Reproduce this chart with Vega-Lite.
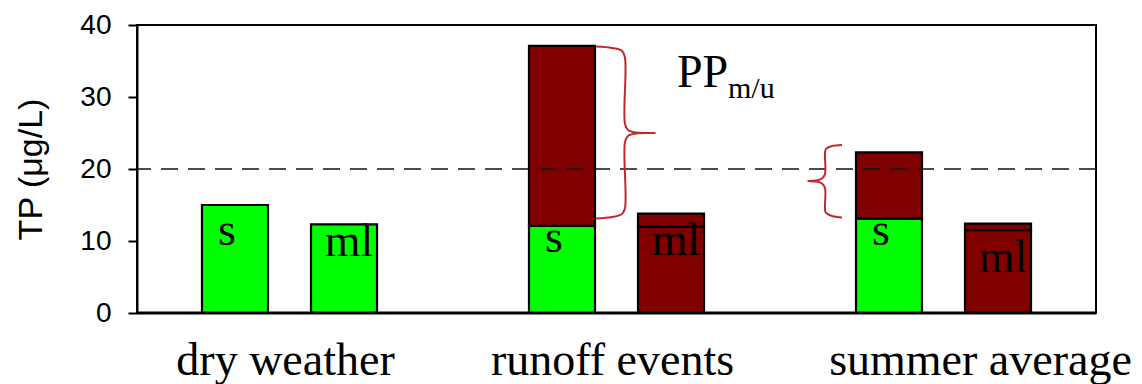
{
  "$schema": "https://vega.github.io/schema/vega-lite/v6.json",
  "width": 959,
  "height": 288,
  "autosize": {"type": "none"},
  "padding": {"left": 137, "top": 25, "right": 46, "bottom": 71},
  "background": "white",
  "config": {
    "view": {"stroke": "black", "strokeWidth": 2},
    "axisY": {
      "grid": false, "domainColor": "black", "domainWidth": 2,
      "tickColor": "black", "tickWidth": 2, "tickSize": 9, "tickCount": 5,
      "labelFont": "Liberation Sans", "labelFontSize": 28, "labelColor": "black", "labelPadding": 17,
      "titleFont": "Liberation Sans", "titleFontSize": 34, "titleFontWeight": "normal", "titleColor": "black",
      "titleX": -106, "titleY": 144, "titleAngle": -90, "titleAlign": "center", "titleBaseline": "middle"
    },
    "axisX": {
      "grid": false, "domain": false, "ticks": false,
      "labelFont": "Liberation Serif", "labelFontSize": 46, "labelColor": "black",
      "labelBaseline": "alphabetic", "labelPadding": 61, "labelAngle": 0, "labelLimit": 0
    }
  },
  "datasets": {
    "bars": [
      {"period": "dry weather", "site": "s", "fraction": "dissolved", "seg": 1, "value": 15.0},
      {"period": "dry weather", "site": "ml", "fraction": "dissolved", "seg": 1, "value": 12.3},
      {"period": "runoff events", "site": "s", "fraction": "dissolved", "seg": 1, "value": 12.1},
      {"period": "runoff events", "site": "s", "fraction": "particulate", "seg": 2, "value": 25.0},
      {"period": "runoff events", "site": "ml", "fraction": "particulate", "seg": 1, "value": 12.0},
      {"period": "runoff events", "site": "ml", "fraction": "particulate", "seg": 2, "value": 1.8},
      {"period": "summer average", "site": "s", "fraction": "dissolved", "seg": 1, "value": 13.1},
      {"period": "summer average", "site": "s", "fraction": "particulate", "seg": 2, "value": 9.2},
      {"period": "summer average", "site": "ml", "fraction": "particulate", "seg": 1, "value": 11.5},
      {"period": "summer average", "site": "ml", "fraction": "particulate", "seg": 2, "value": 0.9}
    ],
    "labels": [
      {"period": "dry weather", "site": "s", "label": "s", "ly": 9.44},
      {"period": "runoff events", "site": "s", "label": "s", "ly": 8.47},
      {"period": "summer average", "site": "s", "label": "s", "ly": 9.44},
      {"period": "dry weather", "site": "ml", "label": "ml", "ly": 7.92},
      {"period": "runoff events", "site": "ml", "label": "ml", "ly": 8.06},
      {"period": "summer average", "site": "ml", "label": "ml", "ly": 5.69}
    ],
    "refs": [
      {"name": "threshold", "ty": 20},
      {"name": "baseline", "ty": 0}
    ],
    "braces": [
      {"brace": "runoff", "i": 1, "u": 1.4373, "v": 37.01},
      {"brace": "runoff", "i": 2, "u": 1.4862, "v": 36.81},
      {"brace": "runoff", "i": 3, "u": 1.5168, "v": 36.39},
      {"brace": "runoff", "i": 4, "u": 1.5260, "v": 35.42},
      {"brace": "runoff", "i": 5, "u": 1.5260, "v": 26.25},
      {"brace": "runoff", "i": 6, "u": 1.5352, "v": 25.42},
      {"brace": "runoff", "i": 7, "u": 1.5596, "v": 25.07},
      {"brace": "runoff", "i": 8, "u": 1.6177, "v": 25.0},
      {"brace": "runoff", "i": 9, "u": 1.5596, "v": 24.93},
      {"brace": "runoff", "i": 10, "u": 1.5352, "v": 24.58},
      {"brace": "runoff", "i": 11, "u": 1.5260, "v": 23.75},
      {"brace": "runoff", "i": 12, "u": 1.5260, "v": 14.58},
      {"brace": "runoff", "i": 13, "u": 1.5168, "v": 13.75},
      {"brace": "runoff", "i": 14, "u": 1.4862, "v": 13.33},
      {"brace": "runoff", "i": 15, "u": 1.4373, "v": 13.13},
      {"brace": "summer", "i": 1, "u": 2.1896, "v": 23.33},
      {"brace": "summer", "i": 2, "u": 2.1590, "v": 23.19},
      {"brace": "summer", "i": 3, "u": 2.1407, "v": 22.78},
      {"brace": "summer", "i": 4, "u": 2.1376, "v": 22.22},
      {"brace": "summer", "i": 5, "u": 2.1376, "v": 19.31},
      {"brace": "summer", "i": 6, "u": 2.1284, "v": 18.68},
      {"brace": "summer", "i": 7, "u": 2.1101, "v": 18.40},
      {"brace": "summer", "i": 8, "u": 2.0856, "v": 18.33},
      {"brace": "summer", "i": 9, "u": 2.1101, "v": 18.26},
      {"brace": "summer", "i": 10, "u": 2.1284, "v": 17.99},
      {"brace": "summer", "i": 11, "u": 2.1376, "v": 17.36},
      {"brace": "summer", "i": 12, "u": 2.1376, "v": 14.44},
      {"brace": "summer", "i": 13, "u": 2.1407, "v": 13.89},
      {"brace": "summer", "i": 14, "u": 2.1590, "v": 13.47},
      {"brace": "summer", "i": 15, "u": 2.1896, "v": 13.26}
    ],
    "pp": [
      {"text": "PP", "u": 1.685, "v": 31.39, "size": "main"},
      {"text": "m/u", "u": 1.841, "v": 29.86, "size": "sub"}
    ]
  },
  "layer": [
    {
      "data": {"name": "bars"},
      "transform": [
        {"stack": "value", "groupby": ["period", "site"], "sort": [{"field": "seg"}], "as": ["lo", "hi"]}
      ],
      "mark": {"type": "bar", "stroke": "black", "strokeWidth": 2.2},
      "encoding": {
        "x": {
          "field": "period", "type": "nominal",
          "scale": {"domain": ["dry weather", "runoff events", "summer average"], "range": [-11, 970], "paddingInner": 0, "paddingOuter": 0},
          "axis": {"labelOffset": {"condition": {"test": "datum.value === 'summer average'", "value": 37}, "value": -4}},
          "title": null
        },
        "xOffset": {"field": "site", "type": "nominal", "scale": {"domain": ["s", "ml"], "paddingInner": 0.3945, "paddingOuter": 0.697}},
        "y": {"field": "lo", "type": "quantitative", "scale": {"domain": [0, 40]}, "axis": {"values": [0, 10, 20, 30, 40]}, "title": "TP (μg/L)"},
        "y2": {"field": "hi"},
        "color": {"field": "fraction", "type": "nominal", "scale": {"domain": ["dissolved", "particulate"], "range": ["#00ff00", "#800000"]}, "legend": null}
      }
    },
    {
      "data": {"name": "labels"},
      "transform": [{"filter": "datum.site === 's'"}],
      "mark": {"type": "text", "font": "Liberation Serif", "fontSize": 46, "baseline": "alphabetic", "align": "center", "dx": -8, "color": "black"},
      "encoding": {
        "x": {"field": "period", "type": "nominal", "scale": {"domain": ["dry weather", "runoff events", "summer average"], "range": [-11, 970], "paddingInner": 0, "paddingOuter": 0}, "axis": null},
        "xOffset": {"field": "site", "type": "nominal", "scale": {"domain": ["s", "ml"], "paddingInner": 0.3945, "paddingOuter": 0.697}},
        "y": {"field": "ly", "type": "quantitative", "scale": {"domain": [0, 40]}, "title": "TP (μg/L)"},
        "text": {"field": "label"}
      }
    },
    {
      "data": {"name": "labels"},
      "transform": [{"filter": "datum.site === 'ml'"}],
      "mark": {"type": "text", "font": "Liberation Serif", "fontSize": 46, "baseline": "alphabetic", "align": "center", "dx": 5, "color": "black"},
      "encoding": {
        "x": {"field": "period", "type": "nominal", "scale": {"domain": ["dry weather", "runoff events", "summer average"], "range": [-11, 970], "paddingInner": 0, "paddingOuter": 0}, "axis": null},
        "xOffset": {"field": "site", "type": "nominal", "scale": {"domain": ["s", "ml"], "paddingInner": 0.3945, "paddingOuter": 0.697}},
        "y": {"field": "ly", "type": "quantitative", "scale": {"domain": [0, 40]}, "title": "TP (μg/L)"},
        "text": {"field": "label"}
      }
    },
    {
      "data": {"name": "refs"},
      "transform": [{"filter": "datum.name === 'threshold'"}],
      "mark": {"type": "rule", "color": "#111111", "strokeWidth": 1.6, "strokeDash": [17, 10]},
      "encoding": {"y": {"field": "ty", "type": "quantitative", "scale": {"domain": [0, 40]}, "title": "TP (μg/L)"}}
    },
    {
      "data": {"name": "refs"},
      "transform": [{"filter": "datum.name === 'baseline'"}],
      "mark": {"type": "rule", "color": "black", "strokeWidth": 3},
      "encoding": {"y": {"field": "ty", "type": "quantitative", "scale": {"domain": [0, 40]}, "title": "TP (μg/L)"}}
    },
    {
      "data": {"name": "braces"},
      "mark": {"type": "line", "color": "#c0282d", "strokeWidth": 2, "interpolate": "catmull-rom"},
      "encoding": {
        "x": {"field": "u", "type": "quantitative", "scale": {"domain": [0, 3], "range": [-11, 970]}, "axis": null},
        "y": {"field": "v", "type": "quantitative", "scale": {"domain": [0, 40]}, "title": "TP (μg/L)"},
        "detail": {"field": "brace"},
        "order": {"field": "i"}
      }
    },
    {
      "data": {"name": "pp"},
      "transform": [{"filter": "datum.size === 'main'"}],
      "mark": {"type": "text", "font": "Liberation Serif", "fontSize": 46, "baseline": "alphabetic", "align": "left", "color": "black"},
      "encoding": {
        "x": {"field": "u", "type": "quantitative", "scale": {"domain": [0, 3], "range": [-11, 970]}, "axis": null},
        "y": {"field": "v", "type": "quantitative", "scale": {"domain": [0, 40]}, "title": "TP (μg/L)"},
        "text": {"field": "text"}
      }
    },
    {
      "data": {"name": "pp"},
      "transform": [{"filter": "datum.size === 'sub'"}],
      "mark": {"type": "text", "font": "Liberation Serif", "fontSize": 30, "baseline": "alphabetic", "align": "left", "color": "black"},
      "encoding": {
        "x": {"field": "u", "type": "quantitative", "scale": {"domain": [0, 3], "range": [-11, 970]}, "axis": null},
        "y": {"field": "v", "type": "quantitative", "scale": {"domain": [0, 40]}, "title": "TP (μg/L)"},
        "text": {"field": "text"}
      }
    }
  ],
  "resolve": {"scale": {"x": "independent"}, "axis": {"x": "independent"}}
}
